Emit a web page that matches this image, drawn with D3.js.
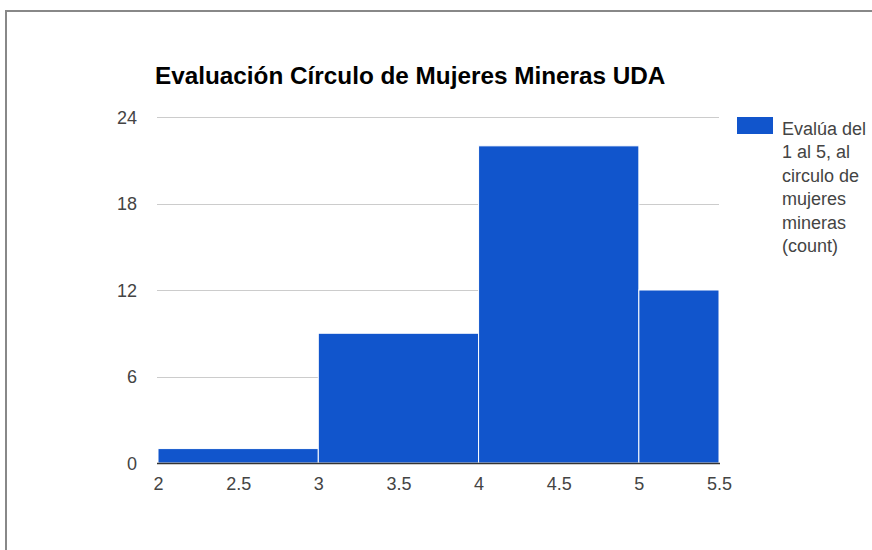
<!DOCTYPE html>
<html>
<head>
<meta charset="utf-8">
<script src="https://cdn.jsdelivr.net/npm/d3@7"></script>
<style>
  html, body { margin: 0; padding: 0; background: #fff; }
  svg { display: block; font-family: "Liberation Sans", Arial, sans-serif; }
</style>
</head>
<body>
<svg id="chart" width="872" height="550"></svg>
<script>
const title = "Evaluación Círculo de Mujeres Mineras UDA";
const binStarts = [2, 3, 4, 5];
const binEnds = [3, 4, 5, 5.5];
const counts = [1, 9, 22, 12];
const yTicks = [0, 6, 12, 18, 24];
const xTicks = [2, 2.5, 3, 3.5, 4, 4.5, 5, 5.5];
const legendLines = ["Evalúa del", "1 al 5, al", "circulo de", "mujeres", "mineras", "(count)"];

(function () {
const svg = d3.select("#chart");
const plotLeft = 158, plotRight = 719, plotTop = 117, plotBottom = 463;
const x = d3.scaleLinear().domain([2, 5.5]).range([plotLeft, plotRight]);
const y = d3.scaleLinear().domain([0, 24]).range([plotBottom, plotTop]);

// outer frame
svg.append("rect").attr("x", 6).attr("y", 11).attr("width", 900).attr("height", 600)
  .attr("fill", "none").attr("stroke", "#888").attr("stroke-width", 2);

// title
svg.append("text").attr("x", 155).attr("y", 84)
  .attr("font-size", 24.3).attr("font-weight", "bold").attr("fill", "#000")
  .text(title);

// gridlines
svg.append("g").selectAll("line").data(yTicks.filter(d => d > 0)).join("line")
  .attr("x1", plotLeft - 1).attr("x2", plotRight)
  .attr("y1", d => Math.round(y(d)) + 0.5).attr("y2", d => Math.round(y(d)) + 0.5)
  .attr("stroke", "#cccccc").attr("stroke-width", 1);

// bars
const bins = counts.map((c, i) => ({ x0: binStarts[i], x1: binEnds[i], c }));
svg.append("g").selectAll("rect").data(bins).join("rect")
  .attr("x", d => x(d.x0))
  .attr("width", d => x(d.x1) - x(d.x0))
  .attr("y", d => y(d.c))
  .attr("height", d => y(0) - y(d.c))
  .attr("fill", "#1155cc").attr("stroke", "#ffffff").attr("stroke-width", 1);

// baseline
svg.append("line").attr("x1", plotLeft - 1).attr("x2", plotRight + 1)
  .attr("y1", y(0) + 0.5).attr("y2", y(0) + 0.5)
  .attr("stroke", "#333333").attr("stroke-width", 1.5);

// y axis labels
const yAxis = svg.append("g").attr("transform", `translate(${plotLeft - 21},0)`)
  .call(d3.axisLeft(y).tickValues(yTicks).tickSize(0).tickPadding(0).tickFormat(d3.format("d")));
yAxis.select(".domain").remove();
yAxis.selectAll("text").attr("font-size", 18).attr("fill", "#444").attr("font-family", null)
  .attr("dy", "0.36em");

// x axis labels
const xAxis = svg.append("g").attr("transform", `translate(0,${plotBottom + 14})`)
  .call(d3.axisBottom(x).tickValues(xTicks).tickSize(0).tickPadding(0).tickFormat(d => String(d)));
xAxis.select(".domain").remove();
xAxis.selectAll("text").attr("font-size", 18).attr("fill", "#444").attr("font-family", null)
  .attr("dy", "0.71em");

// legend
svg.append("rect").attr("x", 737).attr("y", 117).attr("width", 36).attr("height", 17)
  .attr("fill", "#1155cc");
svg.append("g").selectAll("text").data(legendLines).join("text")
  .attr("x", 782).attr("y", (d, i) => 135 + i * 23.4)
  .attr("font-size", 18).attr("fill", "#444")
  .text(d => d);
})();
</script>
</body>
</html>
